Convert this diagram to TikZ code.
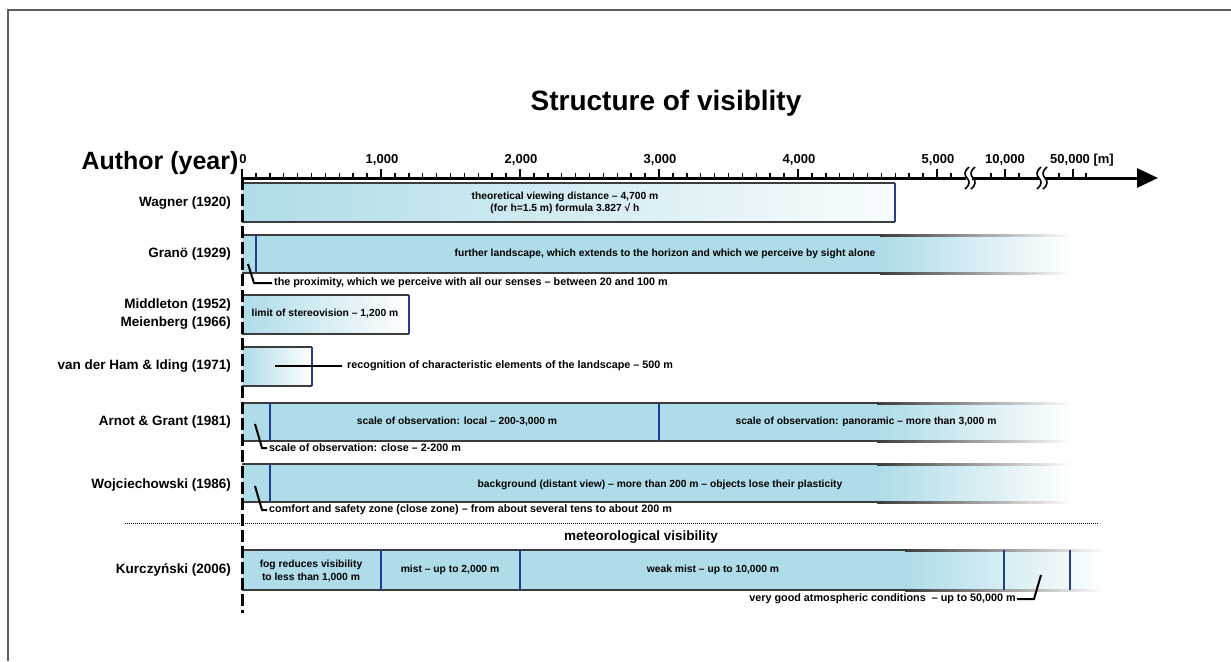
\documentclass[tikz,border=0pt]{standalone}
\usepackage{fontspec}
\setmainfont{Liberation Sans}
\usetikzlibrary{arrows.meta, positioning}
\definecolor{VisBlue}{HTML}{AEDCE8}
\definecolor{VisDivider}{HTML}{1F3C9E}
\definecolor{VisEdge}{HTML}{3C3C3C}
\definecolor{VisFrame}{HTML}{5E5E5E}
\tikzset{
    % Text styles
    authorlabel/.style={
        anchor=east,
        align=right,
        inner sep=0pt,
        font=\bfseries\fontsize{13.5}{18}\selectfont
    },
    bartext/.style={
        align=center,
        inner sep=0pt,
        font=\bfseries\fontsize{10.3}{12.5}\selectfont
    },
    notetext/.style={
        inner sep=0pt,
        font=\bfseries\fontsize{10.8}{12.5}\selectfont
    },
    ticklabel/.style={
        anchor=base,
        inner sep=0pt,
        font=\bfseries\fontsize{13}{15}\selectfont
    },
    % Line styles
    axisline/.style={
        line width=3pt,
        draw=black
    },
    yaxis/.style={
        line width=3pt,
        draw=black,
        dash pattern=on 12pt off 4pt
    },
    minortick/.style={
        line width=1.5pt,
        draw=black
    },
    majortick/.style={
        line width=2.5pt,
        draw=black
    },
    breakmark/.style={
        line width=1.6pt,
        draw=black
    },
    edge/.style={
        line width=2pt,
        draw=VisEdge
    },
    fadeedge/.style={
        left color=VisEdge,
        right color=white
    },
    fadefill/.style={
        left color=VisBlue,
        right color=white
    },
    divider/.style={
        line width=2pt,
        draw=VisDivider
    },
    leader/.style={
        line width=2pt,
        draw=black
    }
}
\begin{document}
\begin{tikzpicture}[x=1pt, y=-1pt]
    \useasboundingbox (0,0) rectangle (1231,661);

    % Frame
    \draw[VisFrame, line width=2pt] (8,661) -- (8,10) -- (1231,10);

    % Titles
    \node[font=\bfseries\fontsize{28}{32}\selectfont] (title) at (666,103) {Structure of visiblity};
    \node[font=\bfseries\fontsize{25}{30}\selectfont] (authorHead) at (160,163) {Author (year)};

    % Distance axis
    \draw[axisline] (242,178) -- (966,178);
    \draw[axisline] (972,178) -- (1039,178);
    \draw[axisline, -{Triangle[length=21pt,width=19pt]}] (1045,178) -- (1158,178);
    \foreach \bx in {967,973,1039,1045}
        \draw[breakmark] (\bx+2,167) .. controls (\bx-3,171) and (\bx-3,175) .. (\bx,178) .. controls (\bx+3,181) and (\bx+3,185) .. (\bx-2,189);

    % Ticks
    \foreach \t in {1,...,51}
        \draw[minortick] ({242+13.9*\t},178) -- ++(0,-5);
    \foreach \tx in {991,1019,1059,1086}
        \draw[minortick] (\tx,178) -- ++(0,-5);
    \foreach \tx in {242,381,520,659,798,937,1005,1073}
        \draw[majortick] (\tx,178) -- ++(0,-9);

    % Tick labels
    \node[ticklabel] (lab0) at (243,163) {0};
    \node[ticklabel] (lab1) at (382,163) {1,000};
    \node[ticklabel] (lab2) at (521,163) {2,000};
    \node[ticklabel] (lab3) at (660,163) {3,000};
    \node[ticklabel] (lab4) at (799,163) {4,000};
    \node[ticklabel] (lab5) at (938,163) {5,000};
    \node[ticklabel] (lab10) at (1005,163) {10,000};
    \node[ticklabel, anchor=base west] (lab50) at (1050,163) {50,000 [m]};

    % Wagner (1920)
    \shade[left color=VisBlue, right color=VisBlue!8] (242,183) rectangle (895,222);
    \draw[edge] (242,183) -- (895,183) (242,222) -- (895,222);
    \draw[divider] (895,183) -- (895,222);
    \node[bartext] (wagnerText) at (565,203) {theoretical viewing distance – 4,700 m\\(for h=1.5 m) formula 3.827 √ h};
    \node[authorlabel] (wagner) at (231,203) {Wagner (1920)};

    % Granö (1929)
    \fill[VisBlue] (242,235) rectangle (880,273);
    \shade[fadefill] (880,235) rectangle (1072,273);
    \draw[edge] (242,235) -- (880,235) (242,273) -- (880,273);
    \shade[fadeedge] (880,234) rectangle (1072,236);
    \shade[fadeedge] (880,272) rectangle (1072,274);
    \draw[divider] (256,235) -- (256,273);
    \node[bartext] (granoText) at (665,254) {further landscape, which extends to the horizon and which we perceive by sight alone};
    \node[authorlabel] (grano) at (231,254) {Granö (1929)};
    \node[notetext, anchor=west] (granoNote) at (274,283) {the proximity, which we perceive with all our senses – between 20 and 100 m};
    \coordinate (granoTip) at (248,264);
    \draw[leader] (granoTip) -- ++(6,19) -- ([xshift=-2pt]granoNote.west);

    % Middleton (1952), Meienberg (1966)
    \shade[fadefill] (242,295) rectangle (409,334);
    \draw[edge] (242,295) -- (409,295) (242,334) -- (409,334);
    \draw[divider] (409,295) -- (409,334);
    \node[bartext] (stereoText) at (325,314) {limit of stereovision – 1,200 m};
    \node[authorlabel] (middleton) at (231,314) {Middleton (1952)\\Meienberg (1966)};

    % van der Ham & Iding (1971)
    \shade[fadefill] (242,347) rectangle (312,386);
    \draw[edge] (242,347) -- (312,347) (242,386) -- (312,386);
    \draw[divider] (312,347) -- (312,386);
    \node[authorlabel] (vanderham) at (231,366) {van der Ham \& Iding (1971)};
    \node[notetext, anchor=west] (hamNote) at (347,366) {recognition of characteristic elements of the landscape – 500 m};
    \coordinate (hamTip) at (275,366);
    \draw[leader] (hamTip) -- ([xshift=-5pt]hamNote.west);

    % Arnot & Grant (1981)
    \fill[VisBlue] (242,403) rectangle (877,441);
    \shade[fadefill] (877,403) rectangle (1072,441);
    \draw[edge] (242,403) -- (877,403) (242,441) -- (877,441);
    \shade[fadeedge] (877,402) rectangle (1072,404);
    \shade[fadeedge] (877,440) rectangle (1072,442);
    \draw[divider] (270,403) -- (270,441);
    \draw[divider] (659,403) -- (659,441);
    \node[bartext] (localText) at (457,422) {scale of observation: local – 200-3,000 m};
    \node[bartext] (panoText) at (866,422) {scale of observation: panoramic – more than 3,000 m};
    \node[authorlabel] (arnot) at (231,422) {Arnot \& Grant (1981)};
    \node[notetext, anchor=west] (arnotNote) at (269,448) {scale of observation: close – 2-200 m};
    \coordinate (arnotTip) at (255,424);
    \draw[leader] (arnotTip) -- ++(7,24) -- ([xshift=-2pt]arnotNote.west);

    % Wojciechowski (1986)
    \fill[VisBlue] (242,464) rectangle (877,502);
    \shade[fadefill] (877,464) rectangle (1072,502);
    \draw[edge] (242,464) -- (877,464) (242,502) -- (877,502);
    \shade[fadeedge] (877,463) rectangle (1072,465);
    \shade[fadeedge] (877,501) rectangle (1072,503);
    \draw[divider] (270,464) -- (270,502);
    \node[bartext] (backText) at (660,485) {background (distant view) – more than 200 m – objects lose their plasticity};
    \node[authorlabel] (wojc) at (231,485) {Wojciechowski (1986)};
    \node[notetext, anchor=west] (wojcNote) at (269,510) {comfort and safety zone (close zone) – from about several tens to about 200 m};
    \coordinate (wojcTip) at (255,486);
    \draw[leader] (wojcTip) -- ++(7,24) -- ([xshift=-2pt]wojcNote.west);

    % Separator
    \draw[line width=1pt, dash pattern=on 1pt off 1pt] (125,523) -- (1098,523);
    \node[font=\bfseries\fontsize{13.5}{16}\selectfont] (meteo) at (641,537) {meteorological visibility};

    % Kurczyński (2006)
    \fill[VisBlue] (242,550) rectangle (905,590);
    \shade[fadefill] (905,550) rectangle (1105,590);
    \draw[edge] (242,550) -- (905,550) (242,590) -- (905,590);
    \shade[fadeedge] (905,549) rectangle (1105,551);
    \shade[fadeedge] (905,589) rectangle (1105,591);
    \draw[divider] (381,550) -- (381,590);
    \draw[divider] (520,550) -- (520,590);
    \draw[divider] (1004,550) -- (1004,590);
    \draw[divider] (1070,550) -- (1070,590);
    \node[bartext] (fogText) at (311,571) {fog reduces visibility\\to less than 1,000 m};
    \node[bartext] (mistText) at (450,570) {mist – up to 2,000 m};
    \node[bartext] (weakText) at (713,570) {weak mist – up to 10,000 m};
    \node[authorlabel] (kurcz) at (231,570) {Kurczyński (2006)};
    \node[notetext, anchor=east] (kurczNote) at (1016,599) {very good atmospheric conditions~~– up to 50,000 m};
    \coordinate (kurczTip) at (1041,575);
    \draw[leader] ([xshift=1pt]kurczNote.east) -- ++(17,0) -- (kurczTip);

    % Vertical axis
    \draw[yaxis] (242,178) -- (242,613);
\end{tikzpicture}
\end{document}
